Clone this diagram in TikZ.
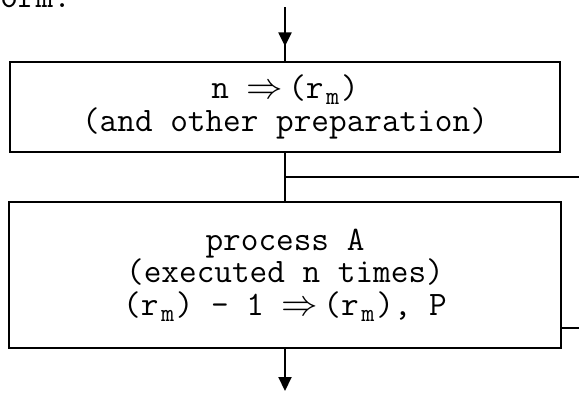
\documentclass[tikz,border=0pt]{standalone}
\usetikzlibrary{arrows.meta,decorations.markings}
\newcommand\flowfont{\ttfamily\fontsize{19.5}{18.5}\selectfont}
\newcommand\rsub[1]{\kern1.5pt\raisebox{-0.4ex}{\fontsize{14.5}{14.5}\selectfont #1}\kern1pt}
\newcommand\tofl{$\Rightarrow$\kern3pt}
\tikzset{
  flowbox/.style={draw, line width=1.2pt, font=\flowfont, align=center, inner sep=0pt},
  flowline/.style={line width=1.2pt},
  downarrow/.style={-{Triangle[width=0.26cm,length=0.28cm]}},
  midtip/.style={postaction={decorate}, decoration={markings,
      mark=at position #1 with {\arrow{Triangle[width=0.26cm,length=0.28cm]}}}}
}
\begin{document}
\begin{tikzpicture}[x=0.02cm, y=-0.02cm]
   \useasboundingbox (0,0) rectangle (579,393);
   \node[anchor=base west, font=\flowfont, inner sep=0pt] (orm) at (0,7) {orm.};
   \node[flowbox, minimum width=11cm, minimum height=1.8cm] (prep) at (285,107)
      {n \tofl(r\rsub{m})\\(and other preparation)};
   \node[flowbox, minimum width=11.04cm, minimum height=2.92cm] (procA) at (285,275)
      {process A\\(executed n times)\\(r\rsub{m}) - 1 \tofl(r\rsub{m}), P};
   \coordinate (in) at (285,7);
   \coordinate (out) at (285,391);
   \coordinate (rep) at (579,177);
   \coordinate (back) at (579,328);
   \draw[flowline, midtip=0.73] (in) -- (prep.north);
   \draw[flowline] (prep.south) -- (procA.north);
   \draw[flowline] (rep -| procA.north) -- (rep);
   \draw[flowline] (back -| procA.east) -- (back);
   \draw[flowline, downarrow] (procA.south) -- (out);
\end{tikzpicture}
\end{document}
